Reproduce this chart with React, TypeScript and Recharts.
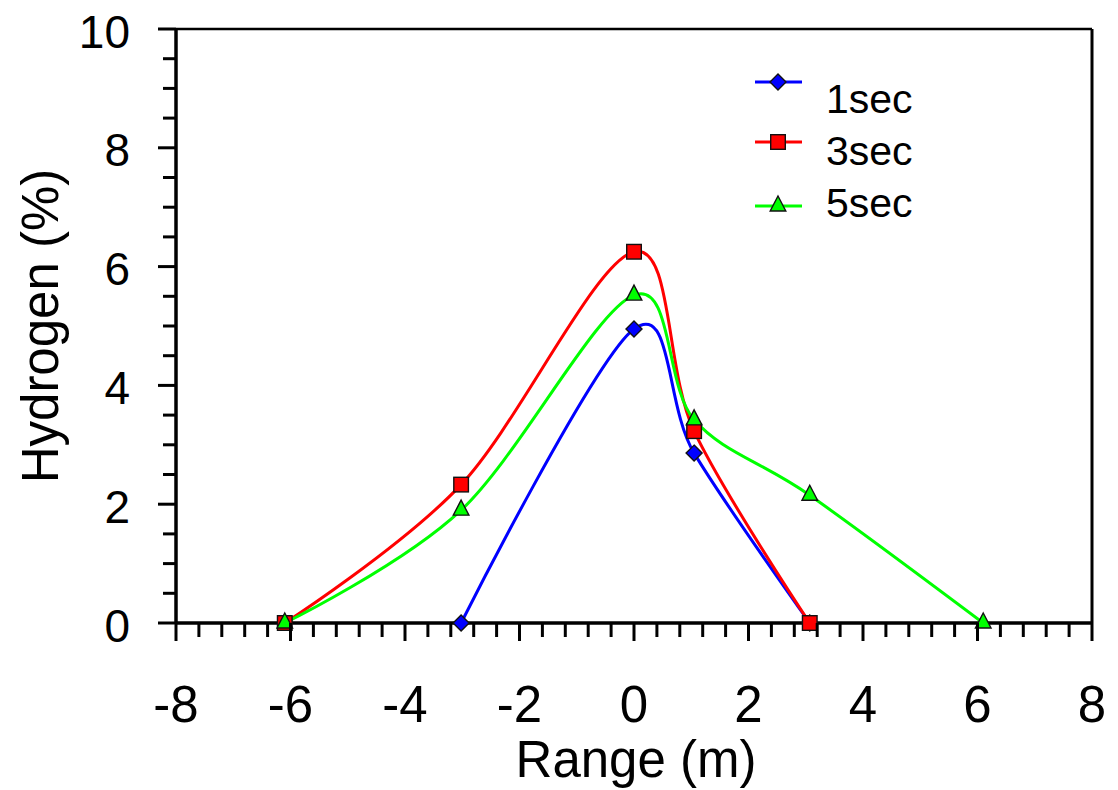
import React from 'react';
import { LineChart, Line, XAxis, YAxis, ReferenceLine, Legend, Label } from 'recharts';

// ---- data ----
const SERIES_NAMES = ['1sec', '3sec', '5sec'];
const SERIES_COLORS = ['#0000ff', '#ff0000', '#00ff00'];
const SERIES_MARKERS = ['diamond', 'square', 'triangle'];

const RANGE_1S = [-3.02, 0, 1.05, 3.07];
const H2_1S = [0, 4.95, 2.86, 0];
const RANGE_3S = [-6.1, -3.02, 0, 1.05, 3.07];
const H2_3S = [0, 2.33, 6.25, 3.23, 0];
const RANGE_5S = [-6.1, -3.02, 0, 1.05, 3.07, 6.1];
const H2_5S = [0, 1.9, 5.52, 3.42, 2.15, 0];

const X_MAJOR_TICKS = [-8, -6, -4, -2, 0, 2, 4, 6, 8];
const X_MINOR_PER_MAJOR = 5; // ticks every 0.4
const Y_MAJOR_TICKS = [0, 2, 4, 6, 8, 10];
const Y_MINOR_PER_MAJOR = 4; // ticks every 0.5

const X_TITLE = 'Range (m)';
const Y_TITLE = 'Hydrogen (%)';

const FONT = '"Liberation Sans", Arial, Helvetica, sans-serif';

const zipXY = (xs: number[], ys: number[]) => xs.map((x, i) => ({ x, y: ys[i] }));
const SERIES_DATA = [zipXY(RANGE_1S, H2_1S), zipXY(RANGE_3S, H2_3S), zipXY(RANGE_5S, H2_5S)];

const withMinor = (majors: number[], parts: number) => {
  const out: number[] = [];
  for (let i = 0; i < majors.length; i++) {
    out.push(majors[i]);
    if (i < majors.length - 1) {
      const step = (majors[i + 1] - majors[i]) / parts;
      for (let k = 1; k < parts; k++) out.push(majors[i] + k * step);
    }
  }
  return out;
};
const X_TICKS = withMinor(X_MAJOR_TICKS, X_MINOR_PER_MAJOR);
const Y_TICKS = withMinor(Y_MAJOR_TICKS, Y_MINOR_PER_MAJOR);
const isMajor = (v: number, majors: number[]) => majors.some((m) => Math.abs(m - v) < 1e-6);

// ---- Catmull-Rom (cardinal, tension 0) curve factory ----
function catmullRom(context: any) {
  let x0 = NaN, y0 = NaN, x1 = NaN, y1 = NaN, x2 = NaN, y2 = NaN;
  let pt = 0;
  let line: number = NaN;
  const k = 1 / 6;
  const seg = (x: number, y: number) => {
    context.bezierCurveTo(
      x1 + k * (x2 - x0), y1 + k * (y2 - y0),
      x2 + k * (x1 - x), y2 + k * (y1 - y),
      x2, y2
    );
  };
  return {
    areaStart() { line = 0; },
    areaEnd() { line = NaN; },
    lineStart() { x0 = x1 = x2 = y0 = y1 = y2 = NaN; pt = 0; },
    lineEnd() {
      if (pt === 2) context.lineTo(x2, y2);
      else if (pt === 3) seg(x1, y1);
      if (line || (line !== 0 && pt === 1)) context.closePath();
      line = 1 - line;
    },
    point(x: number, y: number) {
      x = +x; y = +y;
      if (pt === 0) {
        pt = 1;
        if (line) context.lineTo(x, y); else context.moveTo(x, y);
      } else if (pt === 1) {
        pt = 2; x1 = x; y1 = y;
      } else {
        pt = 3;
        seg(x, y);
      }
      x0 = x1; x1 = x2; x2 = x;
      y0 = y1; y1 = y2; y2 = y;
    },
  };
}

// ---- markers ----
function Marker({ shape, cx, cy, fill }: { shape: string; cx: number; cy: number; fill: string }) {
  const st = { stroke: '#111', strokeWidth: 1.4 };
  if (shape === 'diamond') {
    const r = 8;
    return <polygon points={`${cx},${cy - r} ${cx + r},${cy} ${cx},${cy + r} ${cx - r},${cy}`} fill={fill} {...st} />;
  }
  if (shape === 'square') {
    const h = 7.3;
    return <rect x={cx - h} y={cy - h} width={2 * h} height={2 * h} fill={fill} {...st} />;
  }
  return <polygon points={`${cx},${cy - 10} ${cx + 7.8},${cy + 5} ${cx - 7.8},${cy + 5}`} fill={fill} {...st} />;
}

// ---- ticks ----
const TICK_SIZE = 18;
const XTick = (props: any) => {
  const { x, y, payload } = props;
  const axisY = y - TICK_SIZE;
  const major = isMajor(payload.value, X_MAJOR_TICKS);
  return (
    <g>
      <line x1={x} x2={x} y1={axisY} y2={axisY + (major ? 18 : 14)} stroke="#000" strokeWidth={3} />
      {major && (
        <text x={x} y={axisY + 99} textAnchor="middle" fontSize={51} fontFamily={FONT} fill="#000">
          {String(payload.value)}
        </text>
      )}
    </g>
  );
};
const YTick = (props: any) => {
  const { x, y, payload } = props;
  const axisX = x + TICK_SIZE;
  const major = isMajor(payload.value, Y_MAJOR_TICKS);
  return (
    <g>
      <line x1={axisX - (major ? 18 : 13)} x2={axisX} y1={y} y2={y} stroke="#000" strokeWidth={3} />
      {major && (
        <text x={axisX - 46} y={y + 18.5} textAnchor="end" fontSize={46} fontFamily={FONT} fill="#000">
          {String(payload.value)}
        </text>
      )}
    </g>
  );
};

// ---- legend ----
const LegendContent = (props: any) => {
  const payload = props.payload || [];
  const lineYs = [22, 82, 146];
  const textYs = [53, 105, 157];
  return (
    <svg width={200} height={170} style={{ display: 'block', overflow: 'visible' }}>
      {payload.map((entry: any) => {
        const idx = SERIES_NAMES.indexOf(entry.value);
        const color = entry.color || SERIES_COLORS[idx];
        return (
          <g key={entry.value}>
            <line x1={15} x2={62} y1={lineYs[idx]} y2={lineYs[idx]} stroke={color} strokeWidth={3} />
            <Marker shape={SERIES_MARKERS[idx]} cx={38} cy={lineYs[idx]} fill={color} />
            <text x={86} y={textYs[idx]} fontSize={41} fontFamily={FONT} fill="#000">
              {entry.value}
            </text>
          </g>
        );
      })}
    </svg>
  );
};

export default function App() {
  return (
    <div style={{ position: 'fixed', left: 0, top: 0, width: 1118, height: 790, fontFamily: FONT, background: '#fff' }}>
      <LineChart width={1118} height={790} margin={{ top: 29, right: 26, bottom: 0, left: 0 }}>
        <XAxis
          dataKey="x"
          type="number"
          domain={[-8, 8]}
          ticks={X_TICKS}
          interval={0}
          allowDuplicatedCategory={false}
          height={167}
          tickSize={TICK_SIZE}
          tickMargin={0}
          tickLine={false}
          axisLine={{ stroke: '#000', strokeWidth: 3.5 }}
          tick={(p: any) => <XTick {...p} />}
        >
          <Label
            content={(p: any) => {
              const vb = p.viewBox;
              return (
                <text x={vb.x + vb.width / 2 + 2} y={vb.y + 154} textAnchor="middle" fontSize={51} fontFamily={FONT} fill="#000">
                  {X_TITLE}
                </text>
              );
            }}
          />
        </XAxis>
        <YAxis
          type="number"
          domain={[0, 10]}
          ticks={Y_TICKS}
          interval={0}
          width={176}
          tickSize={TICK_SIZE}
          tickMargin={0}
          tickLine={false}
          axisLine={{ stroke: '#000', strokeWidth: 3.5 }}
          tick={(p: any) => <YTick {...p} />}
        >
          <Label
            content={(p: any) => {
              const vb = p.viewBox;
              const cx = vb.x + 58;
              const cy = vb.y + vb.height / 2;
              return (
                <text x={cx} y={cy} transform={`rotate(-90 ${cx} ${cy})`} textAnchor="middle" fontSize={51} fontFamily={FONT} fill="#000">
                  {Y_TITLE}
                </text>
              );
            }}
          />
        </YAxis>
        <ReferenceLine y={10} stroke="#000" strokeWidth={2.5} />
        <ReferenceLine x={8} stroke="#000" strokeWidth={3} />
        <Legend
          layout="vertical"
          align="center"
          verticalAlign="middle"
          content={(p: any) => <LegendContent {...p} />}
          wrapperStyle={{ left: 740, top: 60, width: 200, height: 170 }}
        />
        {SERIES_NAMES.map((name, i) => (
          <Line
            key={name}
            name={name}
            data={SERIES_DATA[i]}
            dataKey="y"
            type={catmullRom as any}
            stroke={SERIES_COLORS[i]}
            strokeWidth={3}
            isAnimationActive={false}
            activeDot={false}
            dot={(p: any) => (
              <Marker key={`${name}-${p.index}`} shape={SERIES_MARKERS[i]} cx={p.cx} cy={p.cy} fill={SERIES_COLORS[i]} />
            )}
          />
        ))}
      </LineChart>
    </div>
  );
}
